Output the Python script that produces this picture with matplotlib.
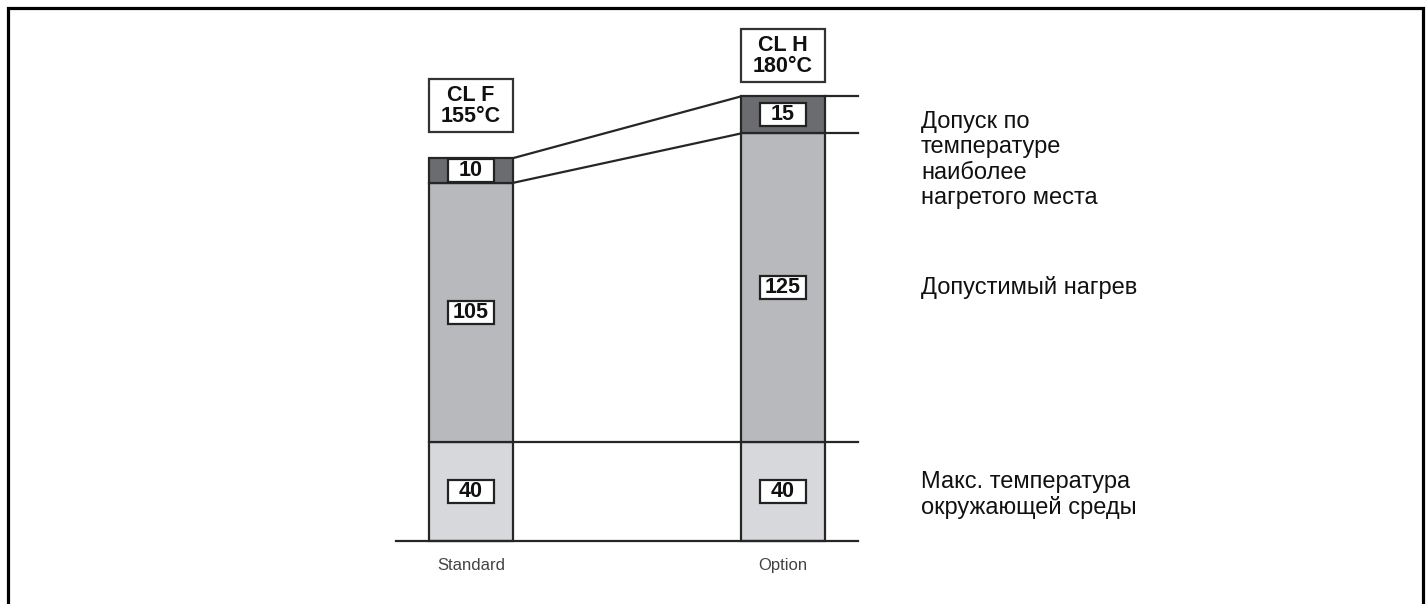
import matplotlib
matplotlib.use("Agg")
import matplotlib.pyplot as plt
from matplotlib.patches import Rectangle

plt.rcParams['font.family'] = ['Liberation Sans', 'DejaVu Sans']

# ---- data ----
categories = ["Standard", "Option"]
class_names = ["CL F", "CL H"]
ambient = [40, 40]          # Макс. температура окружающей среды
rise = [105, 125]           # Допустимый нагрев
hotspot = [10, 15]          # Допуск по температуре наиболее нагретого места
legend_texts = ["Допуск по\nтемпературе\nнаиболее\nнагретого места",
                "Допустимый нагрев",
                "Макс. температура\nокружающей среды"]

totals = [a + r + h for a, r, h in zip(ambient, rise, hotspot)]
mids = [a + r for a, r in zip(ambient, rise)]

# ---- style ----
c_hot = "#6b6c6f"
c_rise = "#b8b9bc"
c_amb = "#d7d8db"
c_line = "#262626"
lw = 1.6
bar_w = 84 / 312
box_w = 46 / 312
box_h = 23 / 2.47

fig = plt.figure(figsize=(14.28, 6.04), dpi=100)
ax = fig.add_axes([0, 0, 1, 1])
ax.set_xlim((0 - 471) / 312, (1428 - 471) / 312)
ax.set_ylim(-(604 - 541) / 2.47, 541 / 2.47)
ax.axis("off")

x = list(range(len(categories)))
ax.bar(x, ambient, width=bar_w, color=c_amb, edgecolor=c_line, linewidth=lw, zorder=3)
ax.bar(x, rise, bottom=ambient, width=bar_w, color=c_rise, edgecolor=c_line, linewidth=lw, zorder=3)
ax.bar(x, hotspot, bottom=mids, width=bar_w, color=c_hot, edgecolor=c_line, linewidth=lw, zorder=3)

hb = bar_w / 2
xr_end = x[-1] + hb + 33 / 312
# baseline
ax.plot([x[0] - hb - 33 / 312, xr_end], [0, 0], color=c_line, lw=lw, zorder=4)
# ambient line
ax.plot([x[0] + hb, xr_end], [ambient[0], ambient[1]], color=c_line, lw=lw, zorder=2)
# right-side ticks of option bar
ax.plot([x[1] + hb, xr_end], [totals[1], totals[1]], color=c_line, lw=lw, zorder=2)
ax.plot([x[1] + hb, xr_end], [mids[1], mids[1]], color=c_line, lw=lw, zorder=2)
# connecting diagonals
ax.plot([x[0] + hb, x[1] - hb], [totals[0], totals[1]], color=c_line, lw=lw, zorder=2)
ax.plot([x[0] + hb, x[1] - hb], [mids[0], mids[1]], color=c_line, lw=lw, zorder=2)

# value boxes
def value_box(xc, yc, val):
    ax.add_patch(Rectangle((xc - box_w / 2, yc - box_h / 2), box_w, box_h,
                           facecolor="white", edgecolor="#222222", lw=1.6, zorder=5))
    ax.text(xc, yc, str(val), ha="center", va="center", fontsize=15.5,
            fontweight="bold", color="#111111", zorder=6)

for i in x:
    value_box(i, ambient[i] / 2, ambient[i])
    value_box(i, ambient[i] + rise[i] / 2, rise[i])
    value_box(i, mids[i] + hotspot[i] / 2, hotspot[i])

# class header boxes
hdr_h = 53 / 2.47
hdr_gaps = [26 / 2.47, 14 / 2.47]
for i in x:
    y0 = totals[i] + hdr_gaps[i]
    ax.add_patch(Rectangle((i - hb, y0), bar_w, hdr_h, facecolor="white",
                           edgecolor="#333333", lw=1.6, zorder=5))
    ax.text(i, y0 + hdr_h / 2, f"{class_names[i]}\n{totals[i]}°C", ha="center",
            va="center", fontsize=15.5, fontweight="bold", linespacing=1.0,
            color="#111111", zorder=6)

# category labels
for i in x:
    ax.text(i, -10.1, categories[i], ha="center", va="center", fontsize=12, color="#444444")

# right-hand descriptions
tx = (921 - 471) / 312
fs_r = 17
ax.text(tx, (541 - 160) / 2.47, legend_texts[0], ha="left", va="center",
        fontsize=fs_r, linespacing=1.18, color="#111111")
ax.text(tx, ambient[1] + rise[1] / 2, legend_texts[1], ha="left", va="center",
        fontsize=fs_r, color="#111111")
ax.text(tx, (541 - 495) / 2.47, legend_texts[2], ha="left", va="center",
        fontsize=fs_r, linespacing=1.15, color="#111111")

# outer frame
fig.patches.append(Rectangle((7.5 / 1428, -0.02), 1415 / 1428, 1.02 - 7.5 / 604,
                             transform=fig.transFigure, fill=False,
                             edgecolor="black", lw=2.3))

fig.savefig("out.png", dpi=100)
